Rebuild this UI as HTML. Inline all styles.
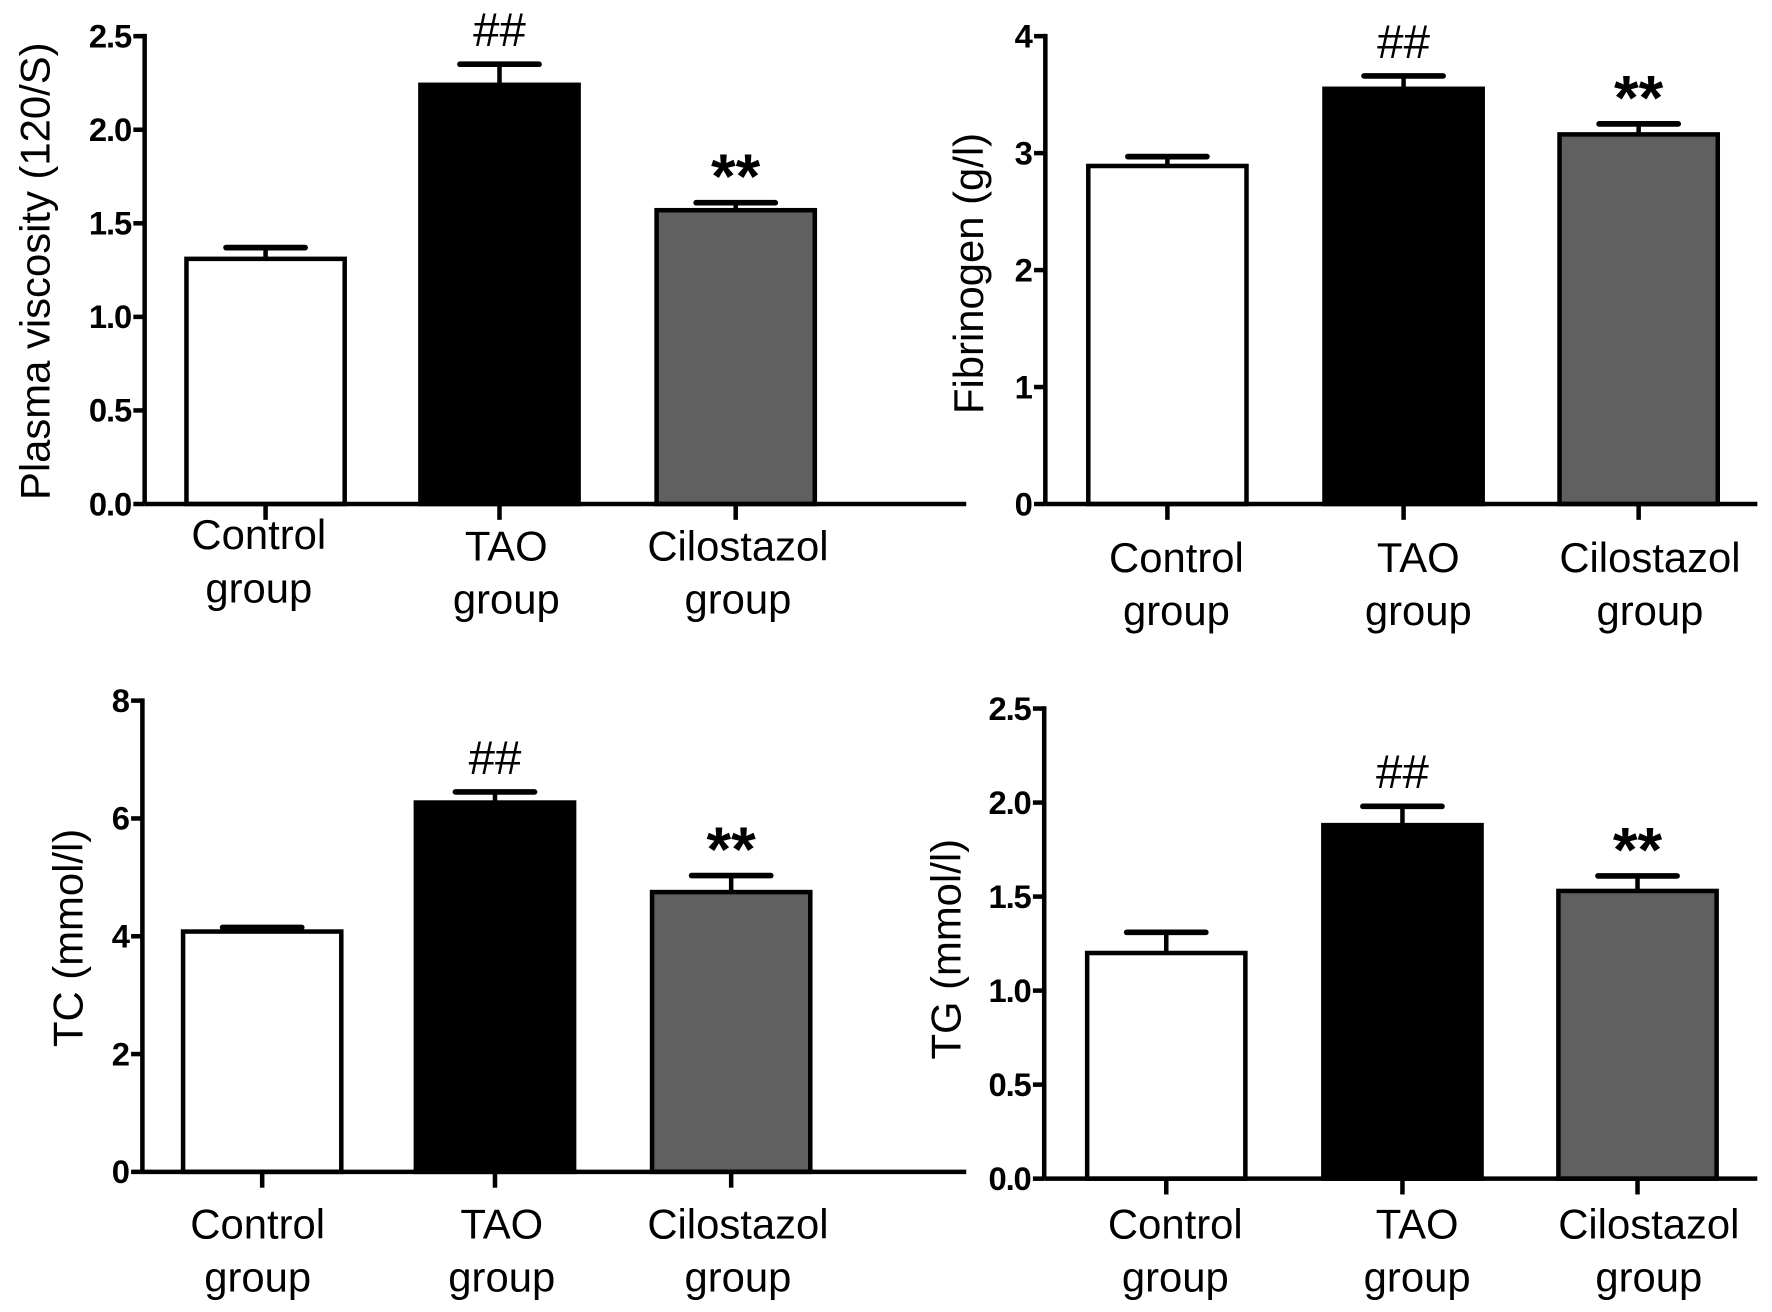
<!DOCTYPE html>
<html><head><meta charset="utf-8"><style>
html,body{margin:0;padding:0;background:#fff;}
svg{display:block;}
text{font-family:"Liberation Sans",Arial,sans-serif;}
</style></head>
<body>
<svg id="fig" width="1772" height="1312" viewBox="0 0 1568 1161" preserveAspectRatio="none" xmlns="http://www.w3.org/2000/svg"></svg>
<script>
const categories = [["Control","group"],["TAO","group"],["Cilostazol","group"]];
const fills = ["#ffffff","#000000","#606060"];
const pvValues = [1.31, 2.24, 1.57];
const pvErrors = [0.06, 0.11, 0.04];
const fbValues = [2.89, 3.55, 3.16];
const fbErrors = [0.08, 0.11, 0.09];
const tcValues = [4.08, 6.27, 4.75];
const tcErrors = [0.07, 0.18, 0.28];
const tgValues = [1.20, 1.88, 1.53];
const tgErrors = [0.11, 0.10, 0.08];
const pvTicks = ["0.0","0.5","1.0","1.5","2.0","2.5"];
const fbTicks = ["0","1","2","3","4"];
const tcTicks = ["0","2","4","6","8"];
const tgTicks = ["0.0","0.5","1.0","1.5","2.0","2.5"];
const marks = ["", "##", "**"];

const NS = "http://www.w3.org/2000/svg";
const svg = document.getElementById("fig");
function el(tag, attrs, parent){
  const e = document.createElementNS(NS, tag);
  for (const k in attrs) e.setAttribute(k, attrs[k]);
  (parent||svg).appendChild(e);
  return e;
}
function panel(cfg){
  const g = el("g", {});
  
  
  const max = parseFloat(cfg.ticks[cfg.ticks.length-1]);
  const y = v => cfg.y0 - (v/max)*(cfg.y0-cfg.yTop);
  cfg.ticks.forEach(t => {
    const v = parseFloat(t), yy = y(v);
    const tk = el("line",{x1:cfg.ax-10,x2:cfg.ax,y1:yy,y2:yy,stroke:"#000","stroke-width":4},g);
    
    
    const tl = el("text",{x:cfg.ax-12,y:yy+10,"text-anchor":"end","font-size":29,"font-weight":"bold","letter-spacing":"-1"},g);
    tl.textContent = t;
    
    
  });
  cfg.values.forEach((v,i) => {
    const x1 = cfg.bx[i], w = cfg.bw, cx = x1 + w/2;
    const top = y(v), et = y(v + cfg.errors[i]);
    const eb = el("line",{x1:cx,x2:cx,y1:top,y2:et,stroke:"#000","stroke-width":4},g);
    
    
    const cap = el("line",{x1:cx-35,x2:cx+35,y1:et,y2:et,stroke:"#000","stroke-width":5,"stroke-linecap":"round"},g);
    
    
    const r = el("rect",{x:x1,y:top,width:w,height:cfg.y0-top,fill:fills[i],stroke:"#000","stroke-width":4},g);
    
    
    const tk = el("line",{x1:cx,x2:cx,y1:cfg.y0,y2:cfg.y0+14,stroke:"#000","stroke-width":4},g);
    
    
    if (marks[i]) {
      const isHash = marks[i]=="##";
      const m = el("text",{x:cx,y:et-(isHash?16:4),"text-anchor":"middle","font-size":isHash?42:56,"font-weight":isHash?"normal":"bold"},g);
      m.textContent = marks[i];
      
      
    }
    const lx = cx + cfg.labDx[i];
    const ly = cfg.labY + (i==0?cfg.ctlShift:0);
    categories[i].forEach((line,j) => {
      const t = el("text",{x:lx,y:ly+j*47,"text-anchor":"middle","font-size":37},g);
      t.textContent = line;
      
      
    });
  });
  const yAxis = el("line",{x1:cfg.ax,x2:cfg.ax,y1:cfg.yTop-2,y2:cfg.y0,stroke:"#000","stroke-width":4},g);
  
  
  const xAxis = el("line",{x1:cfg.ax,x2:cfg.axEnd,y1:cfg.y0,y2:cfg.y0,stroke:"#000","stroke-width":4},g);
  
  
  const tt = el("text",{x:0,y:0,"text-anchor":"middle","font-size":37,transform:`translate(${cfg.titleX},${cfg.titleY}) rotate(-90)`},g);
  tt.textContent = cfg.title;
  
  
}
panel({name:"plasma-viscosity-chart",values:pvValues,errors:pvErrors,ticks:pvTicks,ax:128,axEnd:855,yTop:32,y0:446,bx:[165,372,581],bw:140,labY:496,ctlShift:-10,labDx:[-6,6,2],title:"Plasma viscosity (120/S)",titleX:44,titleY:240});
panel({name:"fibrinogen-chart",values:fbValues,errors:fbErrors,ticks:fbTicks,ax:925,axEnd:1555,yTop:32,y0:446,bx:[963,1172,1380],bw:140,labY:506,ctlShift:0,labDx:[8,13,10],title:"Fibrinogen (g/l)",titleX:870,titleY:242});
panel({name:"tc-chart",values:tcValues,errors:tcErrors,ticks:tcTicks,ax:126,axEnd:855,yTop:620,y0:1037,bx:[162,368,577],bw:140,labY:1096,ctlShift:0,labDx:[-4,6,6],title:"TC (mmol/l)",titleX:73,titleY:830});
panel({name:"tg-chart",values:tgValues,errors:tgErrors,ticks:tgTicks,ax:924,axEnd:1555,yTop:627,y0:1043,bx:[962,1171,1379],bw:140,labY:1096,ctlShift:0,labDx:[8,13,10],title:"TG (mmol/l)",titleX:850,titleY:840});
</script>
</body></html>
